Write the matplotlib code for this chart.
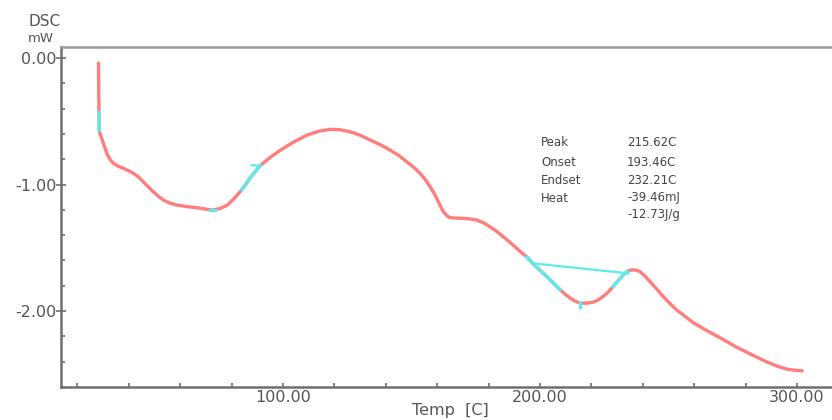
import matplotlib
matplotlib.use("Agg")
import matplotlib.pyplot as plt
from matplotlib.ticker import MultipleLocator, FormatStrFormatter

# ---- data ----
temp = [28.2, 28.3, 28.5, 28.8, 30.1, 31.4, 32.6, 34.0, 35.8, 37.9, 39.8, 41.8,
        43.7, 45.6, 47.5, 49.5, 51.5, 53.4, 56.0, 58.6, 62.5, 66.4, 69.5, 72.3,
        75.5, 78.5, 81.0, 84.0, 87.5, 91.1, 95.0, 98.8, 104.0,
        109.3, 114.0, 118.3, 122.0, 126.1, 130.0, 133.9, 137.8, 141.6, 145.0,
        148.1, 150.8, 153.3, 155.4, 157.2, 158.6, 159.8, 161.1, 162.4, 163.8,
        165.0, 167.5, 170.2, 172.8, 175.4, 178.0, 180.5, 183.1, 185.7, 188.3,
        190.9, 192.2, 194.8, 197.4, 200.0, 202.6, 205.2, 207.8, 209.8, 211.7,
        213.7, 215.6, 218.2, 220.7, 222.7, 224.6, 226.6, 228.5, 230.5, 232.4,
        234.0, 235.7, 237.3, 238.9, 240.8, 242.8, 245.4, 248.0, 250.6, 253.2,
        259.5, 264.5, 270.0, 276.0, 282.9, 287.5, 292.2, 296.0, 298.5, 302.0]
dsc = [-0.04, -0.30, -0.57, -0.60, -0.674, -0.753, -0.800, -0.832, -0.855, -0.872, -0.890, -0.911,
       -0.940, -0.978, -1.017, -1.057, -1.093, -1.123, -1.147, -1.162, -1.174, -1.183, -1.193, -1.202,
       -1.19, -1.16, -1.11, -1.04, -0.94, -0.85, -0.785, -0.73, -0.665,
       -0.61, -0.578, -0.564, -0.566, -0.583, -0.61, -0.648, -0.685, -0.727, -0.77,
       -0.819, -0.862, -0.911, -0.962, -1.017, -1.063, -1.109, -1.165, -1.215, -1.248,
       -1.262, -1.265, -1.267, -1.272, -1.281, -1.302, -1.334, -1.37, -1.413, -1.457,
       -1.504, -1.528, -1.571, -1.628, -1.678, -1.726, -1.779, -1.831, -1.868, -1.897,
       -1.922, -1.937, -1.938, -1.929, -1.912, -1.884, -1.848, -1.805, -1.758, -1.713,
       -1.686, -1.674, -1.676, -1.688, -1.722, -1.767, -1.826, -1.886, -1.942, -1.992,
       -2.09, -2.15, -2.21, -2.28, -2.35, -2.395, -2.435, -2.458, -2.466, -2.472]

# cyan analysis marks
cyan_start_t = [28.35, 28.45]
cyan_start_y = [-0.43, -0.57]
cyan_min1_t = [71.6, 73.4]
cyan_min1_y = [-1.202, -1.202]
cyan_tan1_t = [84.0, 87.5, 91.1]
cyan_tan1_y = [-1.04, -0.94, -0.85]
cyan_tick1_t = [87.8, 91.1]
cyan_tick1_y = [-0.846, -0.854]
cyan_left_t = [194.8, 197.4, 200.0, 202.6, 205.2, 207.8]
cyan_left_y = [-1.571, -1.628, -1.678, -1.726, -1.779, -1.831]
cyan_peak_t = [215.6, 215.6]
cyan_peak_y = [-1.93, -1.97]
cyan_right_t = [228.5, 230.5, 232.4, 234.0]
cyan_right_y = [-1.805, -1.758, -1.713, -1.686]
baseline_t = [197.4, 234.4]
baseline_y = [-1.623, -1.702]

info_labels = ["Peak", "Onset", "Endset", "Heat", ""]
info_values = ["215.62C", "193.46C", "232.21C", "-39.46mJ", "-12.73J/g"]

xticks = [100, 200, 300]
yticks = [0.0, -1.0, -2.0]

RED = "#ff7d7d"
CYAN = "#5eeaea"
TXT = "#555555"

fig = plt.figure(figsize=(8.32, 4.2), dpi=100)
ax = fig.add_axes([61/832, 1-387/420, 1-61/832, (387-47)/420])
ax.set_xlim(13.6, 313.6)
ax.set_ylim(-2.6, 0.087)

ax.plot(temp, dsc, color=RED, lw=2.4, solid_capstyle="round",
        solid_joinstyle="round", zorder=2)
for t, y in [(cyan_start_t, cyan_start_y), (cyan_min1_t, cyan_min1_y),
             (cyan_tan1_t, cyan_tan1_y), (cyan_left_t, cyan_left_y),
             (cyan_peak_t, cyan_peak_y), (cyan_right_t, cyan_right_y)]:
    ax.plot(t, y, color=CYAN, lw=2.4, solid_joinstyle="round", zorder=3)
ax.plot(cyan_tick1_t, cyan_tick1_y, color=CYAN, lw=1.6, zorder=3)
ax.plot(baseline_t, baseline_y, color=CYAN, lw=1.6, zorder=3)

# spines
for s in ["left", "bottom"]:
    ax.spines[s].set_color("#6e6e6e")
    ax.spines[s].set_linewidth(1.8)
ax.spines["top"].set_color("#9a9a9a")
ax.spines["top"].set_linewidth(1.8)
ax.spines["right"].set_visible(False)

ax.set_xticks(xticks)
ax.set_yticks(yticks)
ax.xaxis.set_major_formatter(FormatStrFormatter("%.2f"))
ax.yaxis.set_major_formatter(FormatStrFormatter("%.2f"))
ax.xaxis.set_minor_locator(MultipleLocator(20))
ax.yaxis.set_minor_locator(MultipleLocator(0.2))
ax.tick_params(axis="x", which="both", direction="in", length=3, width=1.2,
               color="#6e6e6e", labelsize=11.5, labelcolor=TXT, pad=2, top=False)
ax.tick_params(axis="y", which="major", direction="inout", length=7, width=1.2,
               color="#6e6e6e", labelsize=11.5, labelcolor=TXT, pad=0, right=False)
ax.tick_params(axis="y", which="minor", direction="in", length=3, width=1.2,
               color="#6e6e6e", right=False)
for lab in ax.get_xticklabels() + ax.get_yticklabels():
    lab.set_family("DejaVu Sans")

# axis titles
fig.text(45/832, 1-22/420, "DSC", ha="center", va="center", fontsize=11,
         color=TXT, family="DejaVu Sans")
fig.text(41/832, 1-39/420, "mW", ha="center", va="center", fontsize=9.5,
         color=TXT, family="DejaVu Sans")
fig.text(450/832, 1-411/420, "Temp  [C]", ha="center", va="center", fontsize=11.5,
         color=TXT, family="DejaVu Sans")

# info block
rows_y = [143, 162, 180, 198, 215]
for lab, val, py in zip(info_labels, info_values, rows_y):
    if lab:
        fig.text(541/832, 1-py/420, lab, ha="left", va="center", fontsize=8.5,
                 color="#444444", family="DejaVu Sans")
    fig.text(627/832, 1-py/420, val, ha="left", va="center", fontsize=8.5,
             color="#444444", family="DejaVu Sans")

fig.savefig("out.png", dpi=100)
